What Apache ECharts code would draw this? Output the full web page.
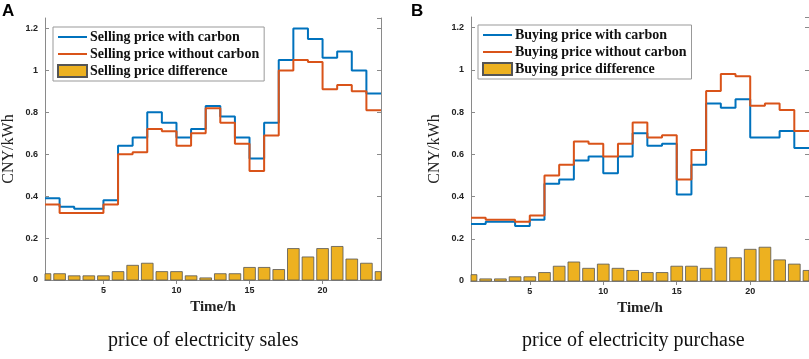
<!DOCTYPE html>
<html>
<head>
<meta charset="utf-8">
<script src="https://cdn.jsdelivr.net/npm/echarts@6/dist/echarts.min.js"></script>
<style>
  html, body { margin: 0; padding: 0; background: #fff; }
  #chart { width: 809px; height: 359px; }
</style>
</head>
<body>
<div id="chart"></div>
<script>
// 时段
const hours = [1, 2, 3, 4, 5, 6, 7, 8, 9, 10, 11, 12, 13, 14, 15, 16, 17, 18, 19, 20, 21, 22, 23, 24];
const xTicks = [5, 10, 15, 20];

// A: 售电价
const sellWith = [0.39, 0.35, 0.34, 0.34, 0.38, 0.64, 0.68, 0.80, 0.75, 0.68, 0.72, 0.83, 0.78, 0.68, 0.58, 0.75, 1.05, 1.20, 1.15, 1.06, 1.09, 1.00, 0.89, 0.89];
const sellWithout = [0.36, 0.32, 0.32, 0.32, 0.36, 0.60, 0.61, 0.72, 0.71, 0.64, 0.70, 0.82, 0.75, 0.65, 0.52, 0.69, 1.00, 1.05, 1.04, 0.91, 0.93, 0.90, 0.81, 0.81];
const sellDiff = [0.03, 0.03, 0.02, 0.02, 0.02, 0.04, 0.07, 0.08, 0.04, 0.04, 0.02, 0.01, 0.03, 0.03, 0.06, 0.06, 0.05, 0.15, 0.11, 0.15, 0.16, 0.10, 0.08, 0.04];

// B: 购电价
const buyWith = [0.27, 0.28, 0.28, 0.26, 0.29, 0.46, 0.48, 0.57, 0.59, 0.51, 0.59, 0.70, 0.64, 0.65, 0.41, 0.55, 0.84, 0.82, 0.86, 0.68, 0.68, 0.71, 0.63, 0.63];
const buyWithout = [0.30, 0.29, 0.29, 0.28, 0.31, 0.50, 0.55, 0.66, 0.65, 0.59, 0.65, 0.75, 0.68, 0.69, 0.48, 0.62, 0.90, 0.98, 0.97, 0.83, 0.84, 0.81, 0.71, 0.71];
const buyDiff = [0.03, 0.01, 0.01, 0.02, 0.02, 0.04, 0.07, 0.09, 0.06, 0.08, 0.06, 0.05, 0.04, 0.04, 0.07, 0.07, 0.06, 0.16, 0.11, 0.15, 0.16, 0.10, 0.08, 0.05];

const names = {
    sell: ['Selling price with carbon', 'Selling price without carbon', 'Selling price difference'],
    buy: ['Buying price with carbon', 'Buying price without carbon', 'Buying price difference']
};

const BLUE = '#0072BD', RED = '#D95319', GOLD = '#EDB120';
const AXIS = '#8a8a8a';
const serif = 'Liberation Serif';
const sans = 'Liberation Sans';

let myChart = echarts.init(document.getElementById('chart'), null, { renderer: 'canvas' });

function pairs(vals) {
    return hours.map((h, i) => [h, vals[i]]);
}

// 柱子按坐标系裁剪（首尾两根只露出一半）
function renderBar(params, api) {
    const top = api.coord([api.value(0), api.value(1)]);
    const bottom = api.coord([api.value(0), 0]);
    const w = api.size([0.8, 0])[0];
    const cs = params.coordSys;
    const rect = echarts.graphic.clipRectByRect(
        { x: top[0] - w / 2, y: top[1], width: w, height: bottom[1] - top[1] },
        { x: cs.x, y: cs.y, width: cs.width, height: cs.height }
    );
    return rect && { type: 'rect', shape: rect, style: api.style() };
}

function xAxes(idx) {
    const base = {
        type: 'value', gridIndex: idx, min: 1, max: 24,
        axisLine: { show: true, lineStyle: { color: AXIS, width: 1 } },
        axisTick: { show: true, inside: true, length: 4, customValues: xTicks, lineStyle: { color: AXIS } },
        splitLine: { show: false }
    };
    return [
        Object.assign({}, base, {
            position: 'bottom',
            name: 'Time/h', nameLocation: 'middle', nameGap: 19,
            nameTextStyle: { fontFamily: serif, fontWeight: 'bold', fontSize: 15, color: '#222' },
            axisLabel: { customValues: xTicks, margin: 6, fontFamily: sans, fontWeight: 'bold', fontSize: 9, color: '#222' }
        }),
        Object.assign({}, base, { position: 'top', axisLabel: { show: false } })
    ];
}

function yAxes(idx) {
    const base = {
        type: 'value', gridIndex: idx, min: 0, max: 1.25, interval: 0.2,
        axisLine: { show: true, lineStyle: { color: AXIS, width: 1 } },
        axisTick: { show: true, inside: true, length: 4, lineStyle: { color: AXIS } },
        splitLine: { show: false }
    };
    return [
        Object.assign({}, base, {
            position: 'left',
            name: 'CNY/kWh', nameLocation: 'middle', nameGap: 28, nameRotate: 90,
            nameTextStyle: { fontFamily: serif, fontSize: 16, color: '#222' },
            axisLabel: { showMaxLabel: false, margin: 7, fontFamily: sans, fontWeight: 'bold', fontSize: 9, color: '#222' }
        }),
        Object.assign({}, base, { position: 'right', axisLabel: { show: false } })
    ];
}

function seriesFor(idx, labels, withC, withoutC, diff) {
    const xi = idx * 2, yi = idx * 2;
    return [
        {
            name: labels[2], type: 'custom', xAxisIndex: xi, yAxisIndex: yi,
            data: pairs(diff), encode: { x: 0, y: 1 }, renderItem: renderBar,
            itemStyle: { color: GOLD, borderColor: '#555', borderWidth: 0.8 }
        },
        {
            name: labels[0], type: 'line', xAxisIndex: xi, yAxisIndex: yi,
            data: pairs(withC), step: 'end', symbol: 'none', clip: true,
            lineStyle: { color: BLUE, width: 2 }, itemStyle: { color: BLUE }
        },
        {
            name: labels[1], type: 'line', xAxisIndex: xi, yAxisIndex: yi,
            data: pairs(withoutC), step: 'end', symbol: 'none', clip: true,
            lineStyle: { color: RED, width: 2 }, itemStyle: { color: RED }
        }
    ];
}

function legendFor(left, top, labels) {
    return {
        orient: 'vertical', left: left, top: top,
        data: [
            { name: labels[0], itemStyle: { opacity: 0 } },
            { name: labels[1], itemStyle: { opacity: 0 } },
            { name: labels[2], icon: 'rect' }
        ],
        itemWidth: 29, itemHeight: 12, itemGap: 3,
        padding: [3, 5, 3, 4],
        borderColor: '#999', borderWidth: 1, backgroundColor: '#fff',
        textStyle: { fontFamily: serif, fontWeight: 'bold', fontSize: 14, color: '#111', padding: [0, 0, 0, -2] }
    };
}

myChart.setOption({
    animation: false,
    grid: [
        { left: 45, top: 18, width: 336, height: 262, outerBoundsMode: 'none', containLabel: false },
        { left: 471, top: 17, width: 338, height: 264, outerBoundsMode: 'none', containLabel: false }
    ],
    xAxis: xAxes(0).concat(xAxes(1)),
    yAxis: yAxes(0).concat(yAxes(1)),
    legend: [
        legendFor(53, 27, names.sell),
        legendFor(478, 25, names.buy)
    ],
    series: seriesFor(0, names.sell, sellWith, sellWithout, sellDiff)
        .concat(seriesFor(1, names.buy, buyWith, buyWithout, buyDiff)),
    graphic: [
        { type: 'text', left: 2, top: 3, style: { text: 'A', fontFamily: sans, fontWeight: 'bold', fontSize: 17, fill: '#000' } },
        { type: 'text', left: 411, top: 3, style: { text: 'B', fontFamily: sans, fontWeight: 'bold', fontSize: 17, fill: '#000' } },
        { type: 'text', left: 108, top: 331, style: { text: 'price of electricity sales', fontFamily: serif, fontSize: 20, fill: '#111' } },
        { type: 'text', left: 522, top: 331, style: { text: 'price of electricity purchase', fontFamily: serif, fontSize: 20, fill: '#111' } }
    ]
});

window.addEventListener('resize', () => {
    myChart.resize();
});
</script>
</body>
</html>
